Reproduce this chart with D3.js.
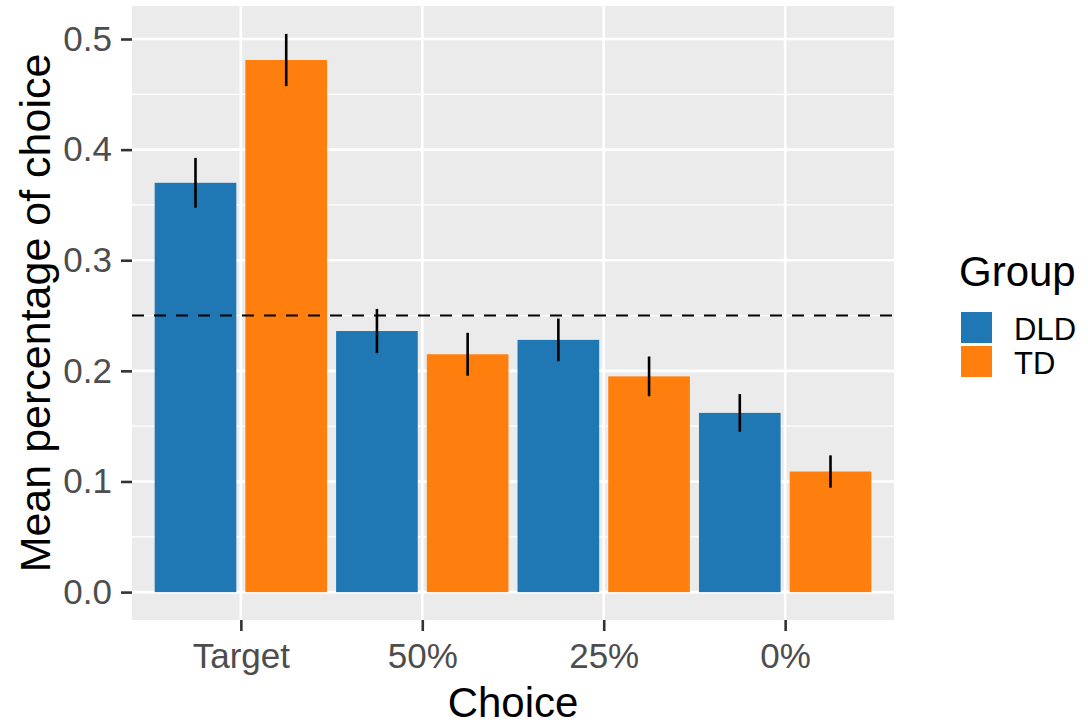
<!DOCTYPE html>
<html>
<head>
<meta charset="utf-8">
<script src="https://cdn.jsdelivr.net/npm/d3@7"></script>
<style>
  html, body { margin: 0; padding: 0; background: #fff; }
  svg { display: block; }
</style>
</head>
<body>
<svg id="chart" width="1088" height="726"></svg>
<script>
// Mean share of each choice type, by group, with error bars
const categories = ["Target", "50%", "25%", "0%"];
const groups = ["DLD", "TD"];
const dldMean = [0.370, 0.236, 0.228, 0.162];
const dldErr  = [0.0225, 0.020, 0.0193, 0.017];
const tdMean  = [0.481, 0.215, 0.195, 0.109];
const tdErr   = [0.0236, 0.0194, 0.018, 0.0146];
const yTicks = [0.0, 0.1, 0.2, 0.3, 0.4, 0.5];
const yMinor = [0.05, 0.15, 0.25, 0.35, 0.45];
const chanceLevel = 0.25;
const groupColors = ["#1F77B4", "#FF7F0E"];

const rows = [];
categories.forEach((c, i) => {
  rows.push({ cat: c, group: "DLD", mean: dldMean[i], err: dldErr[i] });
  rows.push({ cat: c, group: "TD", mean: tdMean[i], err: tdErr[i] });
});

const svg = d3.select("#chart");
const font = "'Liberation Sans', Arial, sans-serif";
const panel = { left: 132, right: 894, top: 6, bottom: 620 };

const x = d3.scalePoint().domain(categories).range([panel.left, panel.right]).padding(0.6);
const step = x.step();
const dodge = d3.scaleBand().domain(groups).range([-step / 2, step / 2]).paddingInner(0.1).paddingOuter(0.05);

const yMax = d3.max(rows, d => d.mean + d.err);
const pad = yMax * 0.05;
const y = d3.scaleLinear().domain([-pad, yMax + pad]).range([panel.bottom, panel.top]);
const color = d3.scaleOrdinal().domain(groups).range(groupColors);

// panel background
svg.append("rect")
  .attr("x", panel.left).attr("y", panel.top)
  .attr("width", panel.right - panel.left).attr("height", panel.bottom - panel.top)
  .attr("fill", "#EBEBEB");

// grid lines
const grid = svg.append("g");
grid.selectAll(".minor").data(yMinor).join("line")
  .attr("x1", panel.left).attr("x2", panel.right)
  .attr("y1", d => y(d)).attr("y2", d => y(d))
  .attr("stroke", "#fff").attr("stroke-width", 1.3);
grid.selectAll(".major").data(yTicks).join("line")
  .attr("x1", panel.left).attr("x2", panel.right)
  .attr("y1", d => y(d)).attr("y2", d => y(d))
  .attr("stroke", "#fff").attr("stroke-width", 2.6);
grid.selectAll(".vmajor").data(categories).join("line")
  .attr("x1", d => x(d)).attr("x2", d => x(d))
  .attr("y1", panel.top).attr("y2", panel.bottom)
  .attr("stroke", "#fff").attr("stroke-width", 2.6);

// bars
svg.append("g").selectAll("rect").data(rows).join("rect")
  .attr("x", d => x(d.cat) + dodge(d.group))
  .attr("width", dodge.bandwidth())
  .attr("y", d => y(d.mean))
  .attr("height", d => y(0) - y(d.mean))
  .attr("fill", d => color(d.group));

// error bars
svg.append("g").selectAll("line").data(rows).join("line")
  .attr("x1", d => x(d.cat) + dodge(d.group) + dodge.bandwidth() / 2)
  .attr("x2", d => x(d.cat) + dodge(d.group) + dodge.bandwidth() / 2)
  .attr("y1", d => y(d.mean - d.err))
  .attr("y2", d => y(d.mean + d.err))
  .attr("stroke", "#000").attr("stroke-width", 2.6);

// chance reference line
svg.append("line")
  .attr("x1", panel.left).attr("x2", panel.right)
  .attr("y1", y(chanceLevel)).attr("y2", y(chanceLevel))
  .attr("stroke", "#000").attr("stroke-width", 2)
  .attr("stroke-dasharray", "12,10");

// y axis
const yAxis = svg.append("g")
  .attr("transform", `translate(${panel.left},0)`)
  .call(d3.axisLeft(y).tickValues(yTicks).tickFormat(d3.format(".1f")).tickSize(11).tickPadding(9));
yAxis.select(".domain").remove();
yAxis.selectAll(".tick line").attr("stroke", "#333").attr("stroke-width", 2.6);
yAxis.selectAll(".tick text").attr("fill", "#4D4D4D").attr("font-family", font).attr("font-size", 35);

// x axis
const xAxis = svg.append("g")
  .attr("transform", `translate(0,${panel.bottom})`)
  .call(d3.axisBottom(x).tickSize(11).tickPadding(12));
xAxis.select(".domain").remove();
xAxis.selectAll(".tick line").attr("stroke", "#333").attr("stroke-width", 2.6);
xAxis.selectAll(".tick text").attr("fill", "#4D4D4D").attr("font-family", font).attr("font-size", 35);

// axis titles
svg.append("text")
  .attr("x", (panel.left + panel.right) / 2).attr("y", 717)
  .attr("text-anchor", "middle")
  .attr("font-family", font).attr("font-size", 42).attr("fill", "#000")
  .text("Choice");
svg.append("text")
  .attr("transform", `translate(50,${(panel.top + panel.bottom) / 2}) rotate(-90)`)
  .attr("text-anchor", "middle")
  .attr("font-family", font).attr("font-size", 43).attr("fill", "#000")
  .text("Mean percentage of choice");

// legend
const legend = svg.append("g").attr("transform", "translate(961,0)");
legend.append("text")
  .attr("x", -2).attr("y", 286)
  .attr("font-family", font).attr("font-size", 42).attr("fill", "#000")
  .text("Group");
const keySize = 31;
const item = legend.selectAll(".item").data(groups).join("g")
  .attr("transform", (d, i) => `translate(0,${312 + i * (keySize + 3)})`);
item.append("rect")
  .attr("width", keySize).attr("height", keySize)
  .attr("fill", d => color(d));
item.append("text")
  .attr("x", 53).attr("y", keySize / 2 + 12)
  .attr("font-family", font).attr("font-size", 31).attr("fill", "#000")
  .text(d => d);
</script>
</body>
</html>
